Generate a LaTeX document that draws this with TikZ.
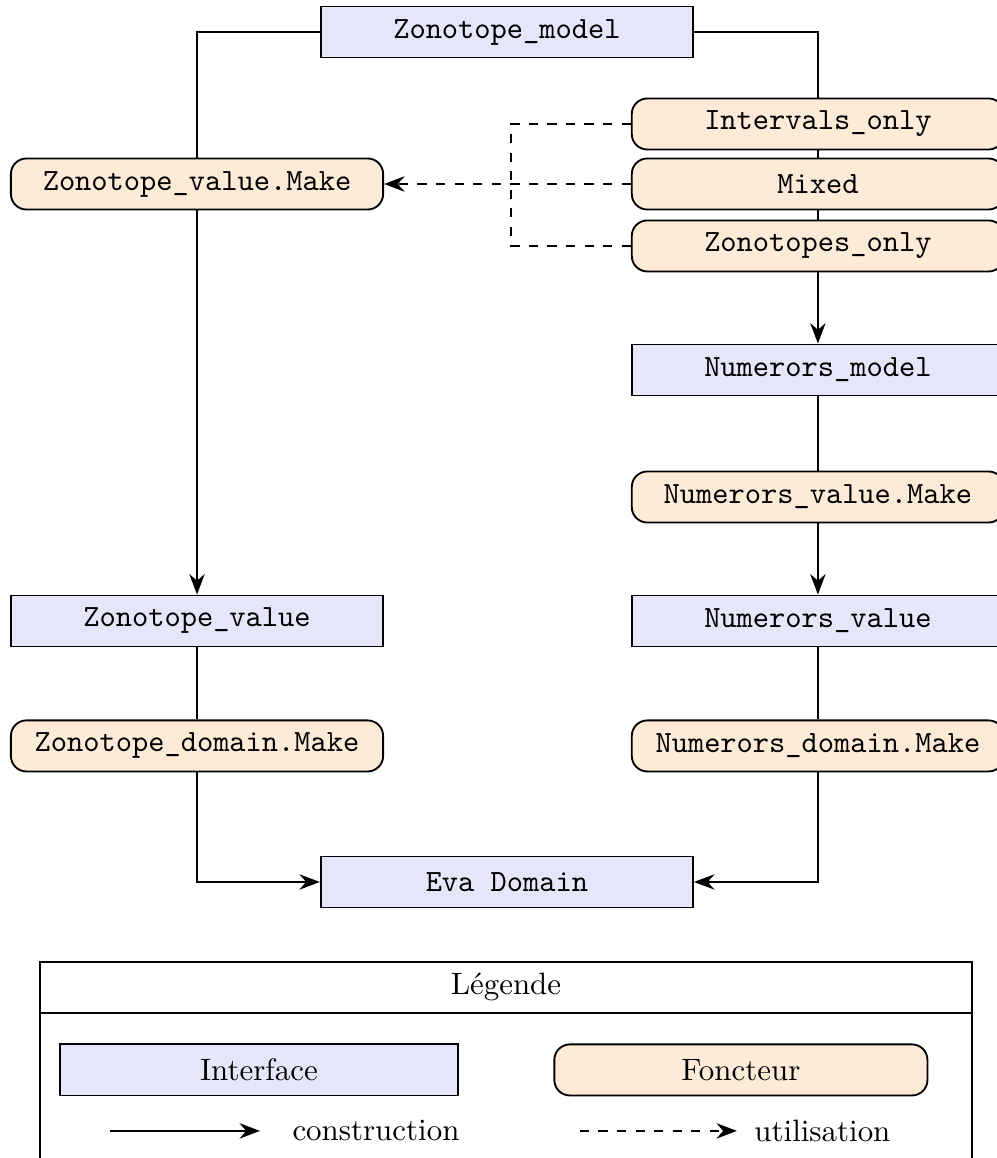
\documentclass[tikz,border=0pt]{standalone}
\usepackage{fontspec}
\usepackage{xcolor}
\definecolor{ifacefill}{HTML}{E6E6FA}
\definecolor{functfill}{HTML}{FDEBD8}
\usetikzlibrary{arrows.meta, positioning}

\tikzset{
  interface/.style={draw, semithick, fill=ifacefill, minimum width=4.23cm,
                    minimum height=0.58cm, font=\ttfamily},
  foncteur/.style={interface, fill=functfill, rounded corners=5pt},
  construction/.style={->, thick},
  utilisation/.style={->, thick, dashed}
}

\begin{document}
\begin{tikzpicture}[>=Stealth]
  \useasboundingbox (0,0) rectangle (11.33,-13.16);
  \clip (0,0) rectangle (11.33,-13.16);

  % interfaces
  \node[interface] (zmodel) at (5.761,-0.364) {Zonotope\_model};
  \node[interface] (zvalue) at (2.239,-7.057) {Zonotope\_value};
  \node[interface] (nmodel) at (9.295,-4.205) {Numerors\_model};
  \node[interface] (nvalue) at (9.295,-7.057) {Numerors\_value};
  \node[interface] (eva) at (5.761,-10.023) {Eva Domain};

  % foncteurs
  \node[foncteur] (intervals) at (9.295,-1.409) {Intervals\_only};
  \node[foncteur] (mixed) at (9.295,-2.091) {Mixed};
  \node[foncteur] (zonotopes) at (9.295,-2.795) {Zonotopes\_only};
  \node[foncteur] (zvmake) at (2.239,-2.091) {Zonotope\_value.Make};
  \node[foncteur] (zdmake) at (2.239,-8.477) {Zonotope\_domain.Make};
  \node[foncteur] (nvmake) at (9.295,-5.648) {Numerors\_value.Make};
  \node[foncteur] (ndmake) at (9.295,-8.477) {Numerors\_domain.Make};

  % construction
  \draw[thick] (zmodel.west) -| (zvmake.north);
  \draw[construction] (zvmake.south) -- (zvalue.north);
  \draw[thick] (zvalue.south) -- (zdmake.north);
  \draw[construction] (zdmake.south) |- (eva.west);

  \draw[thick] (zmodel.east) -| (intervals.north);
  \draw[thick] (intervals.south) -- (mixed.north);
  \draw[thick] (mixed.south) -- (zonotopes.north);
  \draw[construction] (zonotopes.south) -- (nmodel.north);
  \draw[thick] (nmodel.south) -- (nvmake.north);
  \draw[construction] (nvmake.south) -- (nvalue.north);
  \draw[thick] (nvalue.south) -- (ndmake.north);
  \draw[construction] (ndmake.south) |- (eva.east);

  % utilisation
  \coordinate (junction) at (5.807,-2.091);
  \draw[thick, dashed] (intervals.west) -| (junction) |- (zonotopes.west);
  \draw[utilisation] (mixed.west) -- (zvmake.east);

  % legende
  \draw[semithick] (0.455,-13.6) |- (11.045,-10.932) -- (11.045,-13.6);
  \draw[semithick] (0.455,-11.511) -- (11.045,-11.511);
  \node (legtitle) at (5.75,-11.216) {Légende};
  \node[interface, font=\rmfamily, minimum width=4.52cm] (legiface) at (2.943,-12.159) {Interface};
  \node[foncteur, font=\rmfamily, minimum width=4.24cm] (legfunct) at (8.42,-12.159) {Foncteur};
  \coordinate (cstart) at (1.25,-12.852);
  \coordinate (cend) at (2.955,-12.852);
  \coordinate (ustart) at (6.59,-12.852);
  \coordinate (uend) at (8.375,-12.852);
  \draw[construction] (cstart) -- (cend);
  \node[anchor=west] (legcons) at (3.2,-12.852) {construction};
  \draw[utilisation] (ustart) -- (uend);
  \node[anchor=west] (leguse) at (8.45,-12.852) {utilisation};
\end{tikzpicture}
\end{document}
